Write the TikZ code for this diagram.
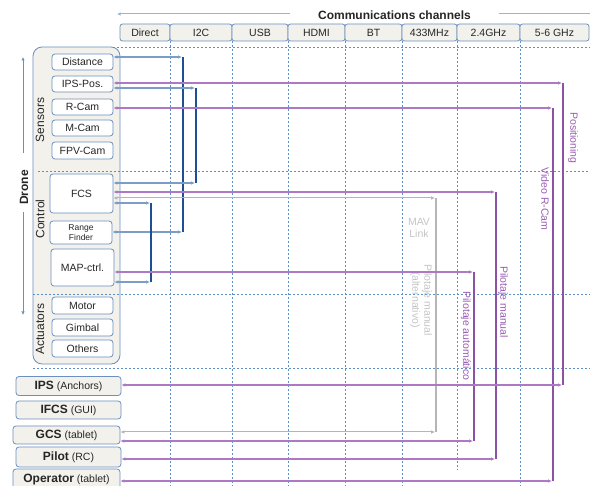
\documentclass[tikz,border=0pt]{standalone}
\usepackage{fontspec}
\setmainfont{Liberation Sans}
\usepackage{xcolor}
\usetikzlibrary{arrows.meta}
\definecolor{cream}{HTML}{F2F1EB}
\definecolor{boxblue}{HTML}{6B8FBF}
\definecolor{gridblue}{HTML}{5F8EC8}
\definecolor{busblue}{HTML}{1E4F95}
\definecolor{linkblue}{HTML}{7C9DC8}
\definecolor{pthick}{HTML}{8C52A6}
\definecolor{pthin}{HTML}{AD78C4}
\definecolor{ptext}{HTML}{9A5CB4}
\definecolor{gthick}{HTML}{B5B5B5}
\definecolor{gtext}{HTML}{C4C4C4}
\definecolor{topblue}{HTML}{9DB4D0}
\definecolor{ink}{HTML}{262626}

\begin{document}
\begin{tikzpicture}[x=1pt, y=-1pt,
  every node/.style={font=\fontsize{10.5}{12}\selectfont, inner sep=0pt, text=ink},
  hdrbox/.style={draw=boxblue, fill=cream, rounded corners=2.5pt, minimum height=17pt, line width=0.8pt},
  subbox/.style={draw=boxblue, fill=white, rounded corners=3pt, minimum width=61pt, line width=0.8pt},
  extbox/.style={draw=boxblue, fill=cream, rounded corners=3pt, minimum width=105pt, minimum height=19pt, line width=0.8pt},
  grp/.style={rotate=90, font=\fontsize{12}{14}\selectfont},
  grid/.style={gridblue, dash pattern=on 2pt off 2pt, line width=0.7pt},
  tip/.style={{Latex[length=4pt,width=3.6pt]}-{Latex[length=4pt,width=3.6pt]}},
  bus/.style={busblue, line width=2.2pt},
  blink/.style={linkblue, line width=1.1pt, tip, shorten >=1pt},
  pbus/.style={pthick, line width=2.2pt},
  plink/.style={pthin, line width=1.1pt, tip, shorten >=1pt},
  gbus/.style={gthick, line width=2.2pt},
  glink/.style={gthick, line width=1pt, tip, shorten >=1pt},
  vlbl/.style={rotate=-90, text=ptext}]
  \useasboundingbox (0,0) rectangle (590,486);

  % Drone frame
  \node[draw=boxblue, fill=cream, rounded corners=9pt, line width=0.8pt,
        minimum width=87pt, minimum height=317pt] (drone) at (76.5,205.5) {};

  % Grid
  \draw[grid] (113,47) -- (590,47);
  \draw[grid] (38,171) -- (590,171);
  \draw[grid] (33,294) -- (590,294);
  \draw[grid] (33,368) -- (590,368);
  \draw[grid] (170,41) -- (170,486);
  \draw[grid] (232,41) -- (232,486);
  \draw[grid] (288,41) -- (288,486);
  \draw[grid] (345,41) -- (345,486);
  \draw[grid] (402,41) -- (402,486);
  \draw[grid] (457,41) -- (457,470);
  \draw[grid] (520,41) -- (520,486);

  % Channels
  \node[font=\bfseries\fontsize{12}{14}\selectfont, minimum width=209pt] (title) at (394.5,15) {Communications channels};
  \coordinate (cleft) at (117,14);
  \coordinate (cright) at (590,14);
  \draw[topblue, line width=1pt, -{Latex[length=3.5pt,width=3.5pt]}] (title.west |- cleft) -- (cleft);
  \draw[topblue, line width=1pt] (cright) -- (title.east |- cright);
  \node[hdrbox, minimum width=50pt] (direct) at (145,32.5) {Direct};
  \node[hdrbox, minimum width=62pt] (itwoc) at (201,32.5) {I2C};
  \node[hdrbox, minimum width=56pt] (usb) at (260,32.5) {USB};
  \node[hdrbox, minimum width=57pt] (hdmi) at (316.5,32.5) {HDMI};
  \node[hdrbox, minimum width=57pt] (bt) at (373.5,32.5) {BT};
  \node[hdrbox, minimum width=55pt] (mhz) at (429.5,32.5) {433MHz};
  \node[hdrbox, minimum width=63pt] (ghza) at (488.5,32.5) {2.4GHz};
  \node[hdrbox, minimum width=69pt] (ghzb) at (554.5,32.5) {5-6 GHz};

  % Drone
  \node[rotate=90, font=\bfseries\fontsize{12}{14}\selectfont] (dronelbl) at (24,187.5) {Drone};
  \coordinate (dup) at (23,57);
  \coordinate (dupend) at (23,153);
  \coordinate (ddown) at (23,315);
  \coordinate (ddownend) at (23,212);
  \draw[boxblue, line width=0.8pt, -{Latex[length=3.5pt,width=3.5pt]}] (dupend) -- (dup);
  \draw[boxblue, line width=0.8pt, -{Latex[length=3.5pt,width=3.5pt]}] (ddownend) -- (ddown);
  \node[grp] (sens) at (40,120) {Sensors};
  \node[grp] (ctrl) at (40,219) {Control};
  \node[grp] (act) at (40,329) {Actuators};

  % Sensors
  \node[subbox, minimum height=16pt] (dist) at (82.5,62) {Distance};
  \node[subbox, minimum height=16pt] (ipspos) at (82.5,84) {IPS-Pos.};
  \node[subbox, minimum height=16pt] (rcam) at (82.5,107) {R-Cam};
  \node[subbox, minimum height=16pt] (mcam) at (82.5,128) {M-Cam};
  \node[subbox, minimum height=17pt] (fpv) at (82.5,150.5) {FPV-Cam};
  % Control
  \node[subbox, minimum width=63pt, minimum height=39pt] (fcs) at (81.5,193.5) {FCS};
  \node[subbox, minimum width=62pt, minimum height=23pt, align=center,
        font=\fontsize{8.5}{10.3}\selectfont] (range) at (81,232.5) {Range\\Finder};
  \node[subbox, minimum width=63pt, minimum height=37pt] (mapc) at (82.5,267.5) {MAP-ctrl.};
  % Actuators
  \node[subbox, minimum height=17pt] (motor) at (82.5,305.5) {Motor};
  \node[subbox, minimum height=17pt] (gimbal) at (82.5,327.5) {Gimbal};
  \node[subbox, minimum height=17pt] (others) at (82.5,348.5) {Others};

  % Ground side
  \node[extbox] (ips) at (68.5,386) {{\bfseries\fontsize{12}{14}\selectfont IPS} (Anchors)};
  \node[extbox, minimum height=18pt] (ifcs) at (68.5,410) {{\bfseries\fontsize{12}{14}\selectfont IFCS} (GUI)};
  \node[extbox, minimum width=107pt, minimum height=18pt] (gcs) at (66.5,435) {{\bfseries\fontsize{12}{14}\selectfont GCS} (tablet)};
  \node[extbox, minimum height=20pt] (pilot) at (68.5,457) {{\bfseries\fontsize{12}{14}\selectfont Pilot} (RC)};
  \node[extbox, minimum width=107pt, minimum height=21pt] (oper) at (66.5,479.5) {{\bfseries\fontsize{12}{14}\selectfont Operator} (tablet)};

  % Wired buses
  \coordinate (itwocT) at (183,57);
  \coordinate (itwocB) at (183,232);
  \draw[bus] (itwocT) -- (itwocB);
  \draw[blink] (dist.east |- itwocT) -- (itwocT);
  \draw[blink] (range.east |- itwocB) -- (itwocB);
  \coordinate (posbT) at (196,88);
  \coordinate (posbB) at (196,183);
  \draw[bus] (posbT) -- (posbB);
  \draw[blink] (ipspos.east |- posbT) -- (posbT);
  \draw[blink] (fcs.east |- posbB) -- (posbB);
  \coordinate (mapbT) at (151,203);
  \coordinate (mapbB) at (151,282);
  \draw[bus] (mapbT) -- (mapbB);
  \draw[blink] (fcs.east |- mapbT) -- (mapbT);
  \draw[blink] (mapc.east |- mapbB) -- (mapbB);

  % MAV Link
  \coordinate (mavT) at (436,198);
  \coordinate (mavB) at (436,432);
  \draw[gbus] (mavT) -- (mavB);
  \draw[glink] (fcs.east |- mavT) -- (mavT);
  \draw[glink] (gcs.east |- mavB) -- (mavB);
  \node[text=gtext, align=center] (mavlbl) at (419,228) {MAV\\Link};
  \node[rotate=-90, text=gtext, align=center] (altlbl) at (421,300) {Pilotaje manual\\(alternativo)};

  % Pilotaje automatico
  \coordinate (autoT) at (474,272);
  \coordinate (autoB) at (474,441);
  \draw[pbus] (autoT) -- (autoB);
  \draw[plink] (mapc.east |- autoT) -- (autoT);
  \draw[plink] (gcs.east |- autoB) -- (autoB);
  \node[vlbl] (autolbl) at (466,336) {Pilotaje automático};

  % Pilotaje manual
  \coordinate (manT) at (496,192);
  \coordinate (manB) at (496,459);
  \draw[pbus] (manT) -- (manB);
  \draw[plink] (fcs.east |- manT) -- (manT);
  \draw[plink] (pilot.east |- manB) -- (manB);
  \node[vlbl] (manlbl) at (503,302) {Pilotaje manual};

  % Video R-Cam
  \coordinate (vidT) at (553,108);
  \coordinate (vidB) at (553,481);
  \draw[pbus] (vidT) -- (vidB);
  \draw[plink] (rcam.east |- vidT) -- (vidT);
  \draw[plink] (oper.east |- vidB) -- (vidB);
  \node[vlbl] (vidlbl) at (545,199) {Video R-Cam};

  % Positioning
  \coordinate (posT) at (563,83);
  \coordinate (posB) at (563,385);
  \draw[pbus] (posT) -- (posB);
  \draw[plink] (ipspos.east |- posT) -- (posT);
  \draw[plink] (ips.east |- posB) -- (posB);
  \node[vlbl] (poslbl) at (573,138) {Positioning};
\end{tikzpicture}
\end{document}
